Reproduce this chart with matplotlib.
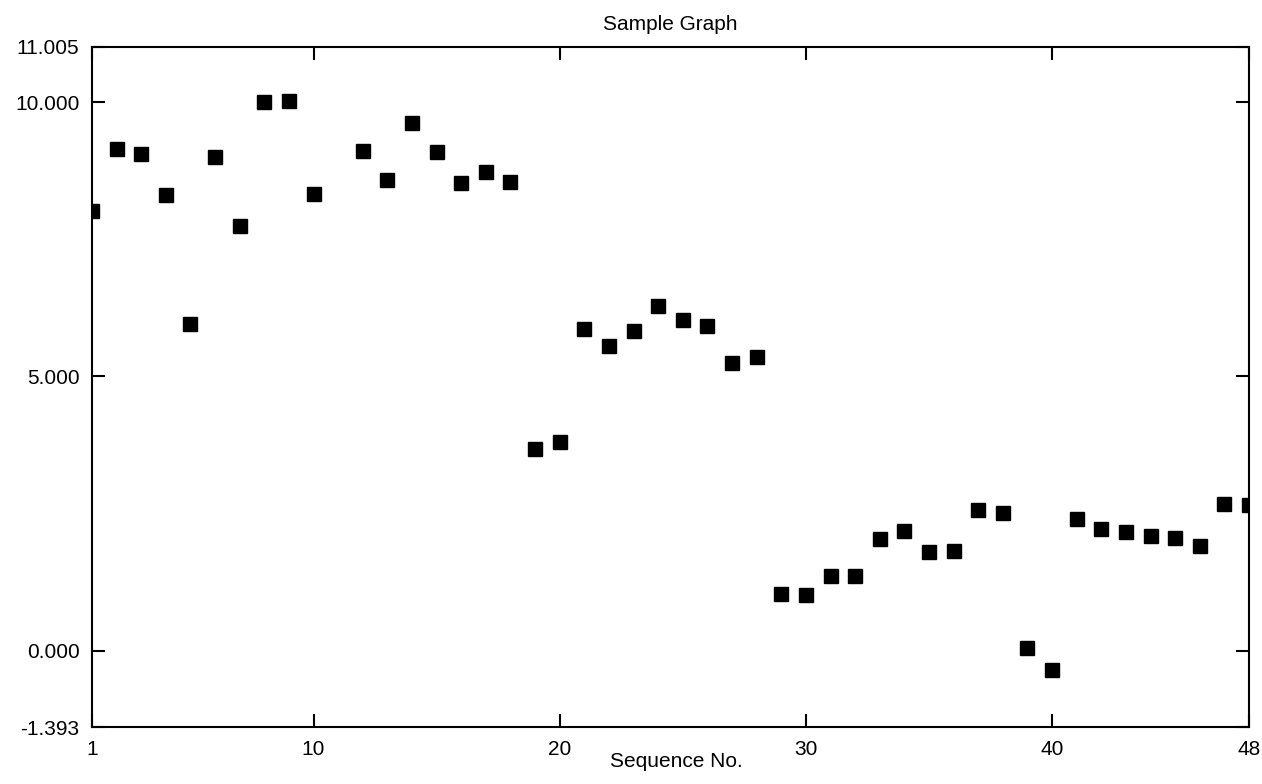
import matplotlib
matplotlib.use("Agg")
import matplotlib.pyplot as plt

# values (sequence 11 has no point)
seq = [1, 2, 3, 4, 5, 6, 7, 8, 9, 10,
       12, 13, 14, 15, 16, 17, 18, 19, 20,
       21, 22, 23, 24, 25, 26, 27, 28, 29, 30,
       31, 32, 33, 34, 35, 36, 37, 38, 39, 40,
       41, 42, 43, 44, 45, 46, 47, 48]
vals = [8.01, 9.14, 9.06, 8.30, 5.96, 9.00, 7.74, 10.01, 10.02, 8.32,
        9.11, 8.58, 9.61, 9.09, 8.53, 8.73, 8.54, 3.68, 3.80,
        5.86, 5.55, 5.83, 6.28, 6.02, 5.92, 5.24, 5.35, 1.03, 1.02,
        1.36, 1.36, 2.03, 2.18, 1.80, 1.81, 2.57, 2.51, 0.05, -0.35,
        2.40, 2.21, 2.17, 2.09, 2.06, 1.91, 2.67, 2.65]

x_ticks = [1, 10, 20, 30, 40, 48]
y_ticks = [-1.393, 0.0, 5.0, 10.0, 11.005]
y_labels = ["-1.393", "0.000", "5.000", "10.000", "11.005"]

plt.rcParams['font.family'] = ['Liberation Sans', 'DejaVu Sans']

fig = plt.figure(figsize=(12.62, 7.84), dpi=100)
ax = fig.add_axes([0.0729, 0.0727, 0.9168, 0.8674])

ax.plot(seq, vals, linestyle='none', marker='s', markersize=10,
        color='black')

ax.set_xlim(1, 48)
ax.set_ylim(-1.393, 11.005)
ax.set_xticks(x_ticks)
ax.set_xticklabels([str(t) for t in x_ticks])
ax.set_yticks(y_ticks)
ax.set_yticklabels(y_labels)

for s in ax.spines.values():
    s.set_linewidth(1.5)
ax.tick_params(direction='in', length=9.5, width=1.5, labelsize=15,
               top=True, right=True, pad=9, colors='black')

ax.set_title("Sample Graph", fontsize=15, pad=12)
ax.set_xlabel("Sequence No.", fontsize=15)
ax.xaxis.set_label_coords(0.505, -0.037)
ax.xaxis.label.set_va('top')

fig.savefig("out.png", dpi=100)
